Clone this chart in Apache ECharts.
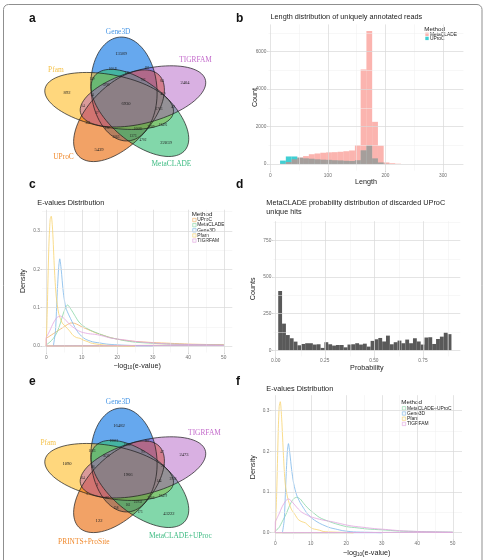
<!DOCTYPE html>
<html lang="en">
<head>
<meta charset="UTF-8">
<title>MetaCLADE figure</title>
<script src="https://cdn.jsdelivr.net/npm/echarts@6/dist/echarts.min.js"></script>
<style>
    html, body { margin: 0; padding: 0; background: #fff; }
    #chart { width: 486px; height: 560px; }
</style>
</head>
<body>
<div id="chart"></div>
<script>
// ---------- data ----------
// venn (a) and (e): sets by position, top then clockwise
var vennNamesA = ['Gene3D', 'TIGRFAM', 'MetaCLADE', 'UProC', 'Pfam'];
var vennNamesE = ['Gene3D', 'TIGRFAM', 'MetaCLADE+UProc', 'PRINTS+ProSite', 'Pfam'];
var vennNamePosA = [[-7, -71], [54, -43], [35, 61], [-50, 54], [-56, -33]];
var vennNamePosE = [[-7, -72], [61, -41], [42, 62], [-34, 68], [-62, -31]];
// region counts [x, y, label] in venn units
var vennCountsA = [
    [-4.7, -49, '13589'], [45.7, -20, '2404'], [-47.2, -10, '892'], [-0.8, 1, '6930'], [-22, 47, '5439'], [30.7, 40, '22059'],
    [-11, -34, '10045'], [15.7, -35, '481'], [0, -30, '176'], [12.6, -23, '702'], [27.6, -22, '84'], [-27.6, -24, '149'],
    [-16.5, -18, '3990'], [28.3, -9, '419'], [-27.6, -8, '14'], [-34.6, 3, '54'], [36.2, 4, '49'], [25.2, 6, '1763'],
    [-23.6, 10, '37'], [-30.7, 20, '361'], [-15.7, 25, '132'], [8.7, 26, '10665'], [18.9, 24, '2689'], [28.3, 22, '13476'],
    [-8.7, 34, '3063'], [4.7, 33, '1373'], [12.6, 37, '4702']
];
var vennCountsE = [
    [-6.3, -48, '16482'], [44.9, -19, '2473'], [-47.2, -10, '1090'], [0.8, 1, '1966'], [-22, 47, '122'], [33, 40, '43222'],
    [-10.2, -33, '10613'], [15.7, -33, '367'], [0, -29, '1235'], [12.6, -22, '95'], [27.6, -22, '47'], [-27.6, -23, '1003'],
    [-16.5, -18, '5630'], [-26.8, -7, '26'], [28.3, -8, '20'], [-34.6, 4, '64'], [36.2, 5, '3956'], [25.2, 7, '144'],
    [-23.6, 11, '3'], [-31.5, 20, '3'], [-15.7, 24, '27'], [8.7, 28, '25952'], [18.9, 24, '2466'], [28.3, 22, '10479'],
    [-8.7, 34, '158'], [0.8, 31, '161'], [10.2, 38, '173']
];

// (b) length histogram, bin left edges (width 10)
var lengthBins = [17, 27, 37, 47, 57, 67, 77, 87, 97, 107, 117, 127, 137, 147, 157, 167, 177, 187, 197, 207, 217];
var metacladeCounts = [10, 100, 250, 350, 420, 520, 560, 600, 620, 630, 650, 680, 720, 1000, 5050, 7100, 2250, 980, 80, 40, 15];
var uprocCounts = [180, 400, 400, 330, 300, 280, 250, 230, 220, 200, 190, 170, 160, 200, 730, 1000, 300, 80, 10, 0, 0];

// (c) e-value densities
var cUproc = [[0, 0.02], [1, 0.026], [2, 0.032], [3, 0.038], [4, 0.044], [5, 0.05], [6, 0.056], [7, 0.06], [8, 0.059], [9, 0.055], [10, 0.05], [12, 0.042], [14, 0.034], [16, 0.028], [18, 0.022], [20, 0.018], [22, 0.015], [25, 0.012], [30, 0.009], [35, 0.007], [40, 0.005], [45, 0.004], [50, 0.003]];
var cMeta = [[0, 0.003], [1, 0.01], [2, 0.02], [3, 0.035], [4, 0.06], [5, 0.09], [6, 0.107], [7, 0.095], [8, 0.08], [9, 0.065], [10, 0.055], [12, 0.043], [14, 0.035], [16, 0.028], [18, 0.022], [20, 0.018], [22, 0.014], [25, 0.01], [30, 0.007], [35, 0.005], [40, 0.004], [45, 0.003], [50, 0.002]];
var cGene3d = [[2, 0], [2.6, 0.04], [3.1, 0.14], [3.5, 0.205], [3.8, 0.227], [4.2, 0.2], [4.8, 0.14], [5.5, 0.1], [6.5, 0.078], [8, 0.05], [9, 0.035], [10, 0.025], [11, 0.018], [13, 0.011], [15, 0.008], [17, 0.005], [20, 0.003], [25, 0.001], [30, 0]];
var cPfam = [[0, 0], [0.3, 0.1], [0.7, 0.25], [1.1, 0.33], [1.4, 0.338], [1.8, 0.3], [2.3, 0.2], [2.8, 0.13], [3.5, 0.085], [4.5, 0.06], [5.5, 0.05], [6.5, 0.04], [7.5, 0.028], [8.5, 0.022], [9.5, 0.02], [10.5, 0.015], [11.5, 0.012], [12.5, 0.008], [13.5, 0.006], [15, 0.004], [17, 0.002], [20, 0.001], [25, 0]];
var cTigr = [[0, 0.022], [1, 0.04], [2, 0.06], [3, 0.074], [4, 0.078], [5, 0.072], [6, 0.062], [7, 0.053], [8, 0.046], [9, 0.04], [10, 0.036], [12, 0.032], [14, 0.03], [16, 0.026], [18, 0.021], [20, 0.018], [22, 0.016], [25, 0.012], [30, 0.008], [35, 0.005], [40, 0.004], [45, 0.003], [50, 0.002]];

// (d) probability histogram
var probBinStart = 0.013;
var probBinWidth = 0.0196;
var probCounts = [405, 182, 104, 82, 59, 34, 43, 48, 48, 39, 41, 16, 55, 41, 32, 36, 36, 20, 39, 41, 48, 39, 45, 25, 64, 75, 84, 60, 100, 41, 55, 66, 48, 73, 48, 82, 60, 39, 87, 89, 43, 77, 93, 121, 110];

// (f) e-value densities
var fMeta = [[0, 0.004], [1, 0.012], [2, 0.028], [3, 0.045], [4, 0.066], [5, 0.082], [6, 0.087], [7, 0.083], [8, 0.072], [9, 0.062], [10, 0.054], [11, 0.047], [12, 0.04], [13, 0.035], [15, 0.028], [17, 0.022], [20, 0.015], [23, 0.012], [26, 0.009], [30, 0.007], [35, 0.004], [40, 0.003], [45, 0.002], [50, 0.001]];
var fGene3d = [[2, 0], [2.5, 0.03], [3, 0.13], [3.4, 0.2], [3.7, 0.219], [4.1, 0.195], [4.6, 0.155], [5.2, 0.12], [6, 0.093], [7, 0.074], [8, 0.06], [9, 0.047], [10, 0.038], [11, 0.031], [12.5, 0.023], [14, 0.017], [15.5, 0.012], [17, 0.009], [19, 0.005], [22, 0.002], [26, 0.001], [30, 0]];
var fPfam = [[0, 0], [0.4, 0.1], [0.8, 0.24], [1.1, 0.31], [1.4, 0.322], [1.8, 0.28], [2.3, 0.19], [2.8, 0.12], [3.5, 0.085], [4.5, 0.058], [5.5, 0.045], [6.5, 0.032], [7.5, 0.027], [8.5, 0.024], [9.5, 0.016], [10.5, 0.01], [11.5, 0.008], [12.5, 0.006], [13.5, 0.003], [15, 0.002], [18, 0.001], [22, 0]];
var fTigr = [[0, 0.027], [1, 0.045], [2, 0.065], [3, 0.079], [3.7, 0.083], [4.5, 0.078], [5.5, 0.068], [6.5, 0.058], [7.5, 0.05], [9, 0.043], [10, 0.039], [12, 0.034], [14, 0.03], [16, 0.027], [18, 0.023], [20, 0.019], [22, 0.016], [25, 0.013], [28, 0.01], [31, 0.008], [35, 0.005], [40, 0.003], [45, 0.002], [50, 0.001]];

var cMethods = ['UProC', 'MetaCLADE', 'Gene3D', 'Pfam', 'TIGRFAM'];
var cCurves = [cUproc, cMeta, cGene3d, cPfam, cTigr];
var fMethods = ['MetaCLADE+UProC', 'Gene3D', 'Pfam', 'TIGRFAM'];
var fCurves = [fMeta, fGene3d, fPfam, fTigr];

// ---------- styles ----------
var SANS = 'Liberation Sans, Arial, sans-serif';
var SERIF = 'Liberation Serif, Times New Roman, serif';
// fill per position (top, upper right, lower right, lower left, upper left)
var vennFill = ['rgba(0,110,227,0.6)', 'rgba(170,80,190,0.45)', 'rgba(47,188,113,0.6)', 'rgba(233,100,0,0.6)', 'rgba(255,188,38,0.6)'];
var vennDrawOrder = [0, 4, 3, 2, 1];
var vennLabelColor = ['#4a98e6', '#c46ccc', '#3dbb82', '#f08a2e', '#f5c24a'];
var methodColor = {
    'UProC': '#f4b061', 'MetaCLADE': '#86d6a4', 'MetaCLADE+UProC': '#86d6a4',
    'Gene3D': '#7db7ea', 'Pfam': '#f7d36f', 'TIGRFAM': '#e2a3e0'
};
var histMeta = 'rgba(248,118,109,0.55)';
var histUproc = 'rgba(0,191,196,0.75)';

// venn geometry (units, y down)
var VA = 52, VB = 26, VC0 = [-2.4, -14], VTILT = -3;

function rot(p, deg) {
    var t = deg * Math.PI / 180;
    return [p[0] * Math.cos(t) - p[1] * Math.sin(t), p[0] * Math.sin(t) + p[1] * Math.cos(t)];
}
var vennCenters = vennDrawOrder.map(function (i) { return rot(VC0, 72 * i).concat([i]); });

function ellipseItem(fill) {
    return function (params, api) {
        var i = api.value(2);
        var c = [api.value(0), api.value(1)];
        var ang = VTILT + 72 * i;
        var pts = [];
        for (var k = 0; k < 90; k++) {
            var t = k / 90 * 2 * Math.PI;
            var p = rot([VB * Math.cos(t), VA * Math.sin(t)], ang);
            pts.push(api.coord([c[0] + p[0], c[1] + p[1]]));
        }
        return {
            type: 'polygon', shape: { points: pts },
            style: fill ? { fill: vennFill[i], stroke: 'none' } : { fill: 'none', stroke: '#1a1a1a', lineWidth: 0.7 }
        };
    };
}

function textItem(list, sizeFn, colorFn, family) {
    return function (params, api) {
        var i = params.dataIndex;
        var p = api.coord([api.value(0), api.value(1)]);
        return {
            type: 'text', x: p[0], y: p[1],
            style: {
                text: list[i], fontSize: sizeFn(i), fontFamily: family, fill: colorFn(i),
                align: 'center', verticalAlign: 'middle'
            }
        };
    };
}

function vennSeries(ax, names, namePos, counts) {
    return [{
        type: 'custom', xAxisIndex: ax, yAxisIndex: ax, silent: true, z: 2,
        data: vennCenters, encode: { x: 0, y: 1 }, renderItem: ellipseItem(true)
    }, {
        type: 'custom', xAxisIndex: ax, yAxisIndex: ax, silent: true, z: 3,
        data: vennCenters, encode: { x: 0, y: 1 }, renderItem: ellipseItem(false)
    }, {
        type: 'custom', xAxisIndex: ax, yAxisIndex: ax, silent: true, z: 4,
        data: counts.map(function (d) { return [d[0], d[1]]; }), encode: { x: 0, y: 1 },
        renderItem: textItem(counts.map(function (d) { return d[2]; }),
            function (i) { return i < 6 ? 4.6 : 3.4; }, function () { return '#222'; }, SERIF)
    }, {
        type: 'custom', xAxisIndex: ax, yAxisIndex: ax, silent: true, z: 4,
        data: namePos, encode: { x: 0, y: 1 },
        renderItem: textItem(names, function () { return 7.4; }, function (i) { return vennLabelColor[i]; }, SERIF)
    }];
}

function histItem(params, api) {
    var p0 = api.coord([api.value(0), api.value(2)]);
    var p1 = api.coord([api.value(1), 0]);
    return {
        type: 'rect', shape: { x: p0[0], y: p0[1], width: p1[0] - p0[0], height: p1[1] - p0[1] },
        style: api.style()
    };
}

var MAJOR = { color: '#d9d9d9', width: 0.7, type: 'solid' };
var MINOR = { color: '#efefef', width: 0.5, type: 'solid' };
function gridLines(ax, xMaj, xMin, yMaj, yMin) {
    var d = [];
    xMin.forEach(function (v) { d.push({ xAxis: v, lineStyle: MINOR }); });
    yMin.forEach(function (v) { d.push({ yAxis: v, lineStyle: MINOR }); });
    xMaj.forEach(function (v) { d.push({ xAxis: v, lineStyle: MAJOR }); });
    yMaj.forEach(function (v) { d.push({ yAxis: v, lineStyle: MAJOR }); });
    return {
        type: 'line', xAxisIndex: ax, yAxisIndex: ax, data: [], silent: true, z: 0,
        markLine: { silent: true, symbol: ['none', 'none'], label: { show: false }, animation: false, data: d }
    };
}

function axis(dir, gi, min, max, ticks, fmt, name, gap) {
    var a = {
        type: 'value', gridIndex: gi, min: min, max: max,
        axisLine: { show: false, onZero: false },
        splitLine: { show: false },
        axisTick: { show: true, length: 1.6, customValues: ticks, lineStyle: { color: '#b0b0b0', width: 0.6 } },
        axisLabel: { customValues: ticks, formatter: fmt, fontSize: 4.8, color: '#6e6e6e', margin: 2.2, fontFamily: SANS },
        name: name, nameLocation: 'middle', nameGap: gap,
        nameTextStyle: { fontSize: 7.2, color: '#222', fontFamily: SANS }
    };
    if (dir === 'y') {
        a.nameRotate = 90;
        a.nameMoveOverlap = false;
    }
    return a;
}

function densitySeries(ax, methods, curves) {
    var out = [];
    methods.forEach(function (m, i) {
        var c = curves[i];
        var first = c[0], last = c[c.length - 1];
        out.push({
            type: 'line', name: m, xAxisIndex: ax, yAxisIndex: ax, data: c, smooth: 0.25,
            showSymbol: false, silent: true, z: 2 + i,
            lineStyle: { color: methodColor[m], width: 0.8 }
        });
        out.push({
            type: 'line', xAxisIndex: ax, yAxisIndex: ax, silent: true, z: 2 + i, showSymbol: false,
            data: [[last[0], last[1]], [last[0], 0], [first[0], 0], [first[0], first[1]]],
            lineStyle: { color: methodColor[m], width: 0.8 }
        });
    });
    return out;
}

var fmtInt = function (v) { return String(v); };
var fmt1 = function (v) { return v.toFixed(1); };
var fmt2 = function (v) { return v.toFixed(2); };

// histogram data tables
var metaData = lengthBins.map(function (b, i) { return [b, b + 10, metacladeCounts[i]]; });
var uprocData = lengthBins.map(function (b, i) { return [b, b + 10, uprocCounts[i]]; });
var probData = probCounts.map(function (c, i) {
    var x0 = probBinStart + i * probBinWidth;
    return [x0, x0 + probBinWidth, c];
});

// ---------- legends, letters, titles ----------
function legendGraphics(x, yTitle, y0, step, names, fills, strokes) {
    var g = [{ type: 'text', x: x - 1, y: yTitle, style: { text: 'Method', fontSize: 6.2, fontFamily: SANS, fill: '#222', verticalAlign: 'middle' } }];
    names.forEach(function (n, i) {
        var y = y0 + i * step;
        g.push({ type: 'rect', shape: { x: x, y: y - 1.7, width: 3.4, height: 3.4 }, style: { fill: fills[i], stroke: strokes[i], lineWidth: 0.6 } });
        g.push({ type: 'text', x: x + 4.6, y: y, style: { text: n, fontSize: 4.9, fontFamily: SANS, fill: '#222', verticalAlign: 'middle' } });
    });
    return g;
}
function label(t, x, y, size) {
    return { type: 'text', x: x, y: y, style: { text: t, fontSize: size, fontFamily: SANS, fill: '#222', verticalAlign: 'middle' } };
}
function letter(t, x, y) {
    return { type: 'text', x: x, y: y, style: { text: t, fontSize: 12, fontWeight: 'bold', fontFamily: SANS, fill: '#111', verticalAlign: 'middle' } };
}

var graphics = [
    { type: 'rect', shape: { x: 3.5, y: 4.5, width: 478.5, height: 580, r: 5 }, style: { fill: 'none', stroke: '#8f8f8f', lineWidth: 1 }, z: 10 },
    letter('a', 29, 19), letter('b', 236, 19), letter('c', 29, 185), letter('d', 236, 185), letter('e', 29, 382), letter('f', 236, 382),
    label('Length distribution of uniquely annotated reads', 270.5, 17, 7.3),
    label('E-values Distribution', 37.3, 203.3, 7.3),
    label('MetaCLADE probability distribution of discarded UProC', 266.3, 203.3, 7.3),
    label('unique hits', 266.3, 211.8, 7.3),
    label('E-values Distribution', 266.3, 389, 7.3)
].concat(
    legendGraphics(425.3, 29.3, 34.3, 4.1, ['MetaCLADE', 'UProC'], [histMeta, histUproc], ['none', 'none']),
    legendGraphics(192.7, 214, 220, 5.15, cMethods,
        cMethods.map(function () { return '#fafafa'; }), cMethods.map(function (m) { return methodColor[m]; })),
    legendGraphics(402.3, 402.3, 408.3, 5.2, fMethods,
        fMethods.map(function () { return '#fafafa'; }), fMethods.map(function (m) { return methodColor[m]; }))
);

// ---------- option ----------
var option = {
    animation: false,
    backgroundColor: '#fff',
    grid: [
        { left: 268.5, top: 24.4, width: 194.9, height: 146.2 },   // b
        { left: 42, top: 209.7, width: 190.3, height: 142.8 },     // c
        { left: 273.5, top: 221.2, width: 186.8, height: 135.2 },  // d
        { left: 271.5, top: 395.2, width: 190.5, height: 144 },    // f
        { left: 25.4, top: 23, width: 203.2, height: 160 },        // venn a
        { left: 25.4, top: 394, width: 203.2, height: 160 }        // venn e
    ],
    xAxis: [
        axis('x', 0, -3.1, 335.5, [0, 100, 200, 300], fmtInt, 'Length', 8),
        axis('x', 1, -1.2, 52.4, [0, 10, 20, 30, 40, 50], fmtInt,
            '{n|\u2212log}{s|10}{n|(e-value)}', 9),
        axis('x', 2, -0.011, 0.94, [0, 0.25, 0.5, 0.75], fmt2, 'Probability', 7),
        axis('x', 3, -1.07, 52.6, [0, 10, 20, 30, 40, 50], fmtInt,
            '{n|\u2212log}{s|10}{n|(e-value)}', 9),
        { type: 'value', gridIndex: 4, min: -80, max: 80, show: false },
        { type: 'value', gridIndex: 5, min: -80, max: 80, show: false }
    ],
    yAxis: [
        axis('y', 0, -355, 7455, [0, 2000, 4000, 6000], fmtInt, 'Count', 10),
        axis('y', 1, -0.0169, 0.3549, [0, 0.1, 0.2, 0.3], fmt1, 'Density', 15),
        axis('y', 2, -42, 882, [0, 250, 500, 750], fmtInt, 'Counts', 17),
        axis('y', 3, -0.016, 0.338, [0, 0.1, 0.2, 0.3], fmt1, 'Density', 14.5),
        { type: 'value', gridIndex: 4, min: -80, max: 80, show: false, inverse: true },
        { type: 'value', gridIndex: 5, min: -80, max: 80, show: false, inverse: true }
    ],
    graphic: graphics,
    series: [].concat(
        gridLines(0, [0, 100, 200, 300], [50, 150, 250], [0, 2000, 4000, 6000], [1000, 3000, 5000, 7000]),
        gridLines(1, [0, 10, 20, 30, 40, 50], [5, 15, 25, 35, 45], [0, 0.1, 0.2, 0.3], [0.05, 0.15, 0.25, 0.35]),
        gridLines(2, [0, 0.25, 0.5, 0.75], [0.125, 0.375, 0.625, 0.875], [0, 250, 500, 750], [125, 375, 625, 875]),
        gridLines(3, [0, 10, 20, 30, 40, 50], [5, 15, 25, 35, 45], [0, 0.1, 0.2, 0.3], [0.05, 0.15, 0.25]),
        [{
            type: 'custom', name: 'b-UProC', xAxisIndex: 0, yAxisIndex: 0, z: 2, silent: true,
            data: uprocData, encode: { x: [0, 1], y: 2 }, renderItem: histItem, itemStyle: { color: histUproc }
        }, {
            type: 'custom', name: 'b-MetaCLADE', xAxisIndex: 0, yAxisIndex: 0, z: 3, silent: true,
            data: metaData, encode: { x: [0, 1], y: 2 }, renderItem: histItem, itemStyle: { color: histMeta }
        }, {
            type: 'custom', name: 'd-prob', xAxisIndex: 2, yAxisIndex: 2, z: 2, silent: true,
            data: probData, encode: { x: [0, 1], y: 2 }, renderItem: histItem, itemStyle: { color: '#595959' }
        }],
        densitySeries(1, cMethods, cCurves),
        densitySeries(3, fMethods, fCurves),
        vennSeries(4, vennNamesA, vennNamePosA, vennCountsA),
        vennSeries(5, vennNamesE, vennNamePosE, vennCountsE)
    )
};

// rich text for the subscript in the x-axis names
[1, 3].forEach(function (i) {
    option.xAxis[i].nameTextStyle.rich = {
        n: { fontSize: 7.2, color: '#222', fontFamily: SANS },
        s: { fontSize: 4.6, color: '#222', fontFamily: SANS, padding: [4, 0, 0, 0] }
    };
});

var chart = echarts.init(document.getElementById('chart'));
chart.setOption(option);
</script>
</body>
</html>
